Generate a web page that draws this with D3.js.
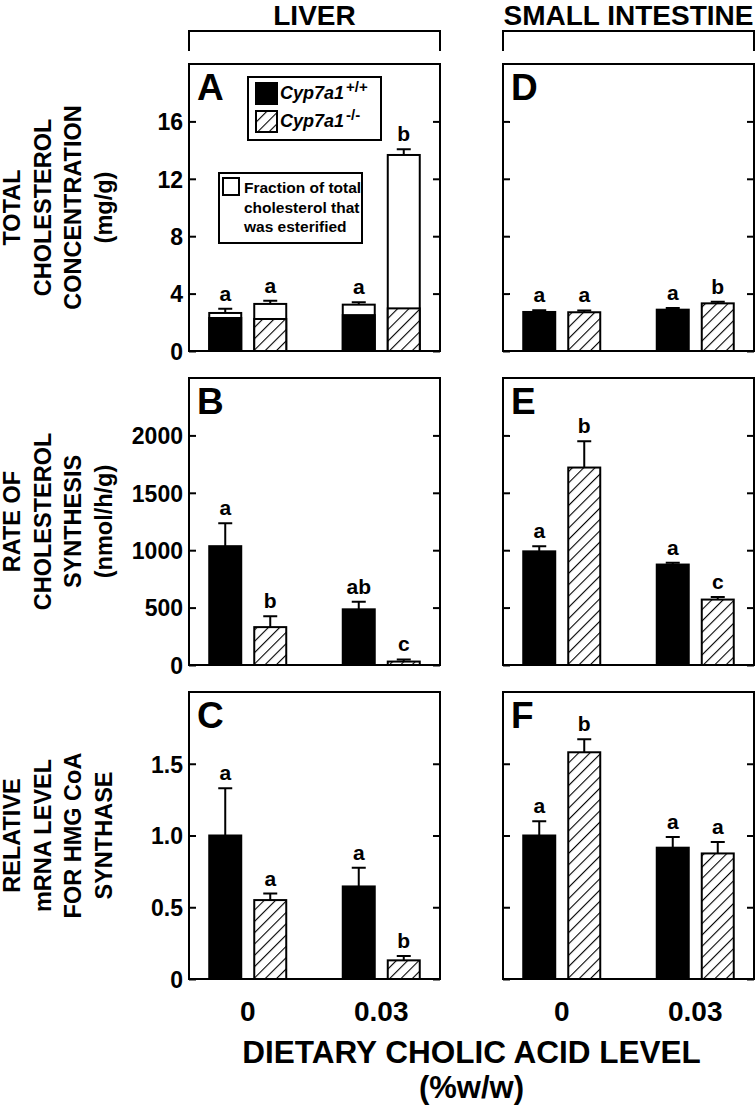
<!DOCTYPE html>
<html>
<head>
<meta charset="utf-8">
<script src="https://cdn.jsdelivr.net/npm/d3@7"></script>
<style>
  body { margin: 0; background: #fff; }
  text { font-family: "Liberation Sans", Arial, Helvetica, sans-serif; font-weight: bold; fill: #000; }
</style>
</head>
<body>
<div id="chart"></div>
<script>
// groups = dietary cholic acid level, genotypes = Cyp7a1 +/+ and -/-
var groups = ["0", "0.03"];
var genotypes = ["wt", "ko"];

// order of values: [0 wt, 0 ko, 0.03 wt, 0.03 ko]
var liverTotal    = [2.65, 3.28, 3.23, 13.66];
var liverTotalErr = [0.30, 0.22, 0.16, 0.40];
var liverFree     = [2.30, 2.23, 2.50, 2.97];   // non-esterified part
var liverTotalLet = ["a", "a", "a", "b"];

var intTotal    = [2.72, 2.70, 2.88, 3.32];
var intTotalErr = [0.12, 0.13, 0.12, 0.12];
var intTotalLet = ["a", "a", "a", "b"];

var liverSynth    = [1035, 330, 485, 30];
var liverSynthErr = [200, 95, 65, 18];
var liverSynthLet = ["a", "b", "ab", "c"];

var intSynth    = [990, 1720, 875, 570];
var intSynthErr = [45, 230, 15, 22];
var intSynthLet = ["a", "b", "a", "c"];

var liverMrna    = [1.00, 0.55, 0.645, 0.13];
var liverMrnaErr = [0.33, 0.045, 0.13, 0.03];
var liverMrnaLet = ["a", "a", "a", "b"];

var intMrna    = [1.00, 1.58, 0.915, 0.875];
var intMrnaErr = [0.10, 0.09, 0.075, 0.08];
var intMrnaLet = ["a", "b", "a", "a"];

var tissues = ["LIVER", "SMALL INTESTINE"];
var yTitles = [
  ["TOTAL", "CHOLESTEROL", "CONCENTRATION", "(mg/g)"],
  ["RATE OF", "CHOLESTEROL", "SYNTHESIS", "(nmol/h/g)"],
  ["RELATIVE", "mRNA LEVEL", "FOR HMG CoA", "SYNTHASE"]
];
var ticksA = [0, 4, 8, 12, 16];
var ticksB = [0, 500, 1000, 1500, 2000];
var ticksC = [0, 0.5, 1.0, 1.5];

var width = 755, height = 1107;
var colX = [189, 503], rowY = [64, 378, 692];
var pw = 251, ph = 287;

var svg = d3.select("#chart").append("svg")
    .attr("width", width)
    .attr("height", height);

svg.append("rect").attr("width", width).attr("height", height).attr("fill", "#fff");

// hatch pattern for knockout bars
svg.append("defs").append("pattern")
    .attr("id", "hatch")
    .attr("patternUnits", "userSpaceOnUse")
    .attr("width", 8).attr("height", 8)
    .attr("patternTransform", "rotate(45)")
  .call(function(p) {
    p.append("rect").attr("width", 8).attr("height", 8).attr("fill", "#fff");
    p.append("line").attr("x1", 0).attr("y1", 0).attr("x2", 0).attr("y2", 8)
      .attr("stroke", "#000").attr("stroke-width", 2.2);
  });

var xGroup = d3.scalePoint().domain(groups).range([0, pw]).padding(0.44);
var xGeno = d3.scaleBand().domain(genotypes).range([-38.5, 38.5]).paddingInner(0.289);

var panels = [
  {key: "A", col: 0, row: 0, vals: liverTotal, err: liverTotalErr, lower: liverFree, lets: liverTotalLet, domain: [0, 20], ticks: ticksA},
  {key: "B", col: 0, row: 1, vals: liverSynth, err: liverSynthErr, lets: liverSynthLet, domain: [0, 2500], ticks: ticksB},
  {key: "C", col: 0, row: 2, vals: liverMrna, err: liverMrnaErr, lets: liverMrnaLet, domain: [0, 2], ticks: ticksC},
  {key: "D", col: 1, row: 0, vals: intTotal, err: intTotalErr, lets: intTotalLet, domain: [0, 20], ticks: ticksA},
  {key: "E", col: 1, row: 1, vals: intSynth, err: intSynthErr, lets: intSynthLet, domain: [0, 2500], ticks: ticksB},
  {key: "F", col: 1, row: 2, vals: intMrna, err: intMrnaErr, lets: intMrnaLet, domain: [0, 2], ticks: ticksC}
];

panels.forEach(function(p) {
  var g = svg.append("g")
      .attr("transform", "translate(" + colX[p.col] + "," + rowY[p.row] + ")");
  var y = d3.scaleLinear().domain(p.domain).range([ph, 0]);

  var bars = p.vals.map(function(v, i) {
    return {v: v, e: p.err[i], lower: p.lower ? p.lower[i] : null, lab: p.lets[i],
            grp: groups[Math.floor(i / 2)], geno: genotypes[i % 2]};
  });
  var bx = function(d) { return xGroup(d.grp) + xGeno(d.geno); };
  var bw = xGeno.bandwidth();

  // error bars (upper only)
  g.selectAll(".err").data(bars).enter().append("path")
      .attr("d", function(d) {
        var cx = bx(d) + bw / 2, yt = y(d.v + d.e);
        return "M" + cx + "," + y(d.v) + "V" + yt + "M" + (cx - 7) + "," + yt + "H" + (cx + 7);
      })
      .attr("stroke", "#000").attr("stroke-width", 2).attr("fill", "none");

  // bars
  g.selectAll(".bar").data(bars).enter().append("rect")
      .attr("x", bx)
      .attr("y", function(d) { return y(d.v); })
      .attr("width", bw)
      .attr("height", function(d) { return ph - y(d.v); })
      .attr("fill", function(d) {
        if (d.lower !== null) return "#fff";
        return d.geno === "wt" ? "#000" : "url(#hatch)";
      })
      .attr("stroke", "#000").attr("stroke-width", 2);

  // non-esterified portion of stacked bars
  g.selectAll(".low").data(bars.filter(function(d) { return d.lower !== null; })).enter().append("rect")
      .attr("x", bx)
      .attr("y", function(d) { return y(d.lower); })
      .attr("width", bw)
      .attr("height", function(d) { return ph - y(d.lower); })
      .attr("fill", function(d) { return d.geno === "wt" ? "#000" : "url(#hatch)"; })
      .attr("stroke", "#000").attr("stroke-width", 2);

  // significance letters
  g.selectAll(".let").data(bars).enter().append("text")
      .attr("x", function(d) { return bx(d) + bw / 2; })
      .attr("y", function(d) { return y(d.v + d.e) - 8; })
      .attr("text-anchor", "middle")
      .style("font-size", "21px")
      .text(function(d) { return d.lab; });

  // ticks: inside, left and right
  var left = d3.axisLeft(y).tickValues(p.ticks).tickSizeInner(-7).tickSizeOuter(0).tickPadding(6)
      .tickFormat(p.col === 0 ? function(d) { return p.key === "C" && d !== 0 ? d3.format(".1f")(d) : d; } : "");
  var gl = g.append("g").call(left);
  gl.select(".domain").remove();
  gl.selectAll("line").attr("stroke", "#000").attr("stroke-width", 2);
  gl.selectAll("text").style("font-size", "23px").style("font-family", null).attr("dy", "0.36em");

  var right = d3.axisRight(y).tickValues(p.ticks).tickSizeInner(-7).tickSizeOuter(0).tickFormat("");
  var gr = g.append("g").attr("transform", "translate(" + pw + ",0)").call(right);
  gr.select(".domain").remove();
  gr.selectAll("line").attr("stroke", "#000").attr("stroke-width", 2);

  // frame
  g.append("rect").attr("width", pw).attr("height", ph)
      .attr("fill", "none").attr("stroke", "#000").attr("stroke-width", 2);

  // panel letter
  g.append("text").attr("x", 8).attr("y", 36)
      .style("font-size", "37px").text(p.key);
});

// legends in panel A
var lg = svg.append("g").attr("transform", "translate(" + colX[0] + "," + rowY[0] + ")");
lg.append("rect").attr("x", 59).attr("y", 13).attr("width", 133).attr("height", 63)
    .attr("fill", "#fff").attr("stroke", "#000").attr("stroke-width", 2);
var legendRows = [{geno: "wt", sup: "+/+"}, {geno: "ko", sup: "-/-"}];
legendRows.forEach(function(r, i) {
  var yy = 19 + i * 28;
  lg.append("rect").attr("x", 67).attr("y", yy).attr("width", 21).attr("height", 21)
      .attr("fill", r.geno === "wt" ? "#000" : "url(#hatch)")
      .attr("stroke", "#000").attr("stroke-width", 2);
  var t = lg.append("text").attr("x", 91).attr("y", yy + 16).style("font-size", "18px");
  t.append("tspan").style("font-style", "italic").text("Cyp7a1");
  t.append("tspan").attr("dy", -7).attr("dx", 2).style("font-size", "15px").text(r.sup);
});

lg.append("rect").attr("x", 30).attr("y", 109).attr("width", 143).attr("height", 70)
    .attr("fill", "#fff").attr("stroke", "#000").attr("stroke-width", 2);
lg.append("rect").attr("x", 34).attr("y", 114).attr("width", 16).attr("height", 17)
    .attr("fill", "#fff").attr("stroke", "#000").attr("stroke-width", 2);
["Fraction of total", "cholesterol that", "was esterified"].forEach(function(s, i) {
  lg.append("text").attr("x", 55).attr("y", 129 + i * 19.5).style("font-size", "15.5px").text(s);
});

// tissue headers with brackets
tissues.forEach(function(s, i) {
  var x0 = colX[i];
  svg.append("text").attr("x", x0 + pw / 2).attr("y", 25)
      .attr("text-anchor", "middle").style("font-size", "28px").text(s);
  svg.append("path")
      .attr("d", "M" + x0 + ",51V31H" + (x0 + pw) + "V51")
      .attr("fill", "none").attr("stroke", "#000").attr("stroke-width", 2);
});

// y-axis titles
yTitles.forEach(function(lines, r) {
  var cy = rowY[r] + ph / 2;
  lines.forEach(function(s, j) {
    svg.append("text")
        .attr("transform", "translate(" + (20 + j * 30.7) + "," + cy + ") rotate(-90)")
        .attr("text-anchor", "middle")
        .style("font-size", "23.5px")
        .text(s);
  });
});

// x-axis labels
colX.forEach(function(x0) {
  svg.selectAll(null).data(groups).enter().append("text")
      .attr("x", function(d) { return x0 + xGroup(d); })
      .attr("y", 1021)
      .attr("text-anchor", "middle")
      .style("font-size", "28px")
      .text(function(d) { return d; });
});

svg.append("text").attr("x", (colX[0] + colX[1] + pw) / 2).attr("y", 1063)
    .attr("text-anchor", "middle").style("font-size", "31.5px").text("DIETARY CHOLIC ACID LEVEL");
svg.append("text").attr("x", (colX[0] + colX[1] + pw) / 2).attr("y", 1098)
    .attr("text-anchor", "middle").style("font-size", "31px").text("(%w/w)");
</script>
</body>
</html>
